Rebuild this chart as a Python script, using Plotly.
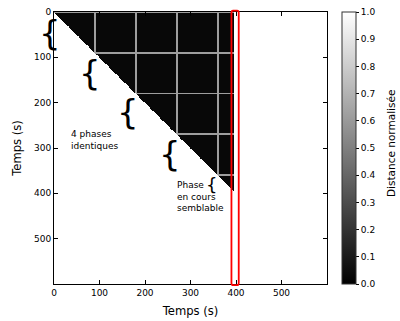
import numpy as np
import plotly.graph_objects as go

# ---- data ----
phase_starts = [0, 90, 180, 270, 360]      # s, boundaries of the repeating phases
current_time = 396                          # s, present instant (end of the triangle)
step = 2                                    # s, resolution of the matrix
value_same = 0.03                           # normalised distance inside phases
value_boundary = 0.62                       # normalised distance at phase changes
axis_ticks = [0, 100, 200, 300, 400, 500]
cbar_ticks = [0.0, 0.1, 0.2, 0.3, 0.4, 0.5, 0.6, 0.7, 0.8, 0.9, 1.0]
window_start, window_end = 390, 406         # highlighted current column (s)
t_max = 600

# ---- build the matrix ----
n = int(np.ceil(current_time / step)) + 1
t = np.arange(n) * step + step / 2
z = np.full((n, n), np.nan)
bnd = np.array(phase_starts, dtype=float)
for i, ti in enumerate(t):
    for j, tj in enumerate(t):
        if tj >= ti and tj <= current_time:
            on_b = np.any(np.abs(ti - bnd) < 2.2) or np.any(np.abs(tj - bnd) < 2.2)
            z[i, j] = value_boundary if on_b else value_same

font = "DejaVu Sans"
fig = go.Figure()
fig.add_trace(go.Heatmap(
    z=z, x=t, y=t, zmin=0, zmax=1,
    colorscale=[[0, "black"], [1, "white"]],
    hoverinfo="skip", zsmooth=False,
    colorbar=dict(
        x=1.055, xanchor="left", xpad=0, y=0.5, yanchor="middle", ypad=0,
        len=1, lenmode="fraction", thickness=14,
        outlinewidth=1, outlinecolor="#333333",
        tickvals=cbar_ticks, ticktext=[f"{v:.1f}" for v in cbar_ticks],
        ticks="outside", ticklen=3, tickcolor="black",
        ticklabeloverflow="allow",
        tickfont=dict(family=font, size=9, color="black"),
    ),
))

def fx(v):
    return v / t_max

def fy(v):
    return 1 - v / t_max

def note(x, y, text, size, xanchor="center"):
    fig.add_annotation(x=fx(x), y=fy(y), xref="x domain", yref="y domain",
                       xanchor=xanchor, yanchor="middle", text=text,
                       showarrow=False, align="left",
                       font=dict(family=font, size=size, color="black"))

# braces (positions in seconds)
for bx, by in [(-9, 46), (79, 134), (162, 221), (254, 313)]:
    note(bx, by, "{", 34)
note(347, 380, "{", 18)
note(90, 283, "4 phases<br>identiques", 9)
note(266, 406, "Phase<br>en cours<br>semblable", 9, xanchor="left")

# colorbar title as rotated text
fig.add_annotation(x=1.234, y=0.518, xref="paper", yref="paper",
                   xanchor="center", yanchor="middle", textangle=-90,
                   text="Distance normalisée", showarrow=False,
                   font=dict(family=font, size=10.5, color="black"))

# highlighted column (rounded rectangle)
x0, x1 = fx(window_start), fx(window_end)
y0, y1 = -0.004, 1.005
r = 0.006
ry = 0.008
path = (f"M {x0+r},{y1} L {x1-r},{y1} Q {x1},{y1} {x1},{y1-ry} "
        f"L {x1},{y0+ry} Q {x1},{y0} {x1-r},{y0} L {x0+r},{y0} "
        f"Q {x0},{y0} {x0},{y0+ry} L {x0},{y1-ry} Q {x0},{y1} {x0+r},{y1} Z")
fig.add_shape(type="path", path=path, xref="x domain", yref="y domain",
              line=dict(color="red", width=1.8), fillcolor="rgba(0,0,0,0)")

axis_common = dict(
    tickvals=axis_ticks, ticks="inside", ticklen=4, tickcolor="black",
    showline=True, linecolor="black", linewidth=1, mirror="ticks",
    showgrid=False, zeroline=False, ticklabeloverflow="allow",
    tickfont=dict(family=font, size=9, color="black"),
)
fig.update_xaxes(range=[0, t_max], title=dict(text="Temps (s)", standoff=10,
                 font=dict(family=font, size=11.6, color="black")), **axis_common)
fig.update_yaxes(range=[t_max, 0], title=dict(text="Temps (s)", standoff=9,
                 font=dict(family=font, size=11.6, color="black")), **axis_common)

fig.update_layout(
    width=400, height=321,
    margin=dict(l=54, r=73, t=12, b=37, autoexpand=False),
    paper_bgcolor="white", plot_bgcolor="white",
    showlegend=False,
)
# remove the default page margin so the 400x321 figure fills the window exactly
fig.write_html("out.html",
               config={"displayModeBar": False},
               post_script="document.body.style.margin='0';"
                           "document.body.style.overflow='hidden';")
